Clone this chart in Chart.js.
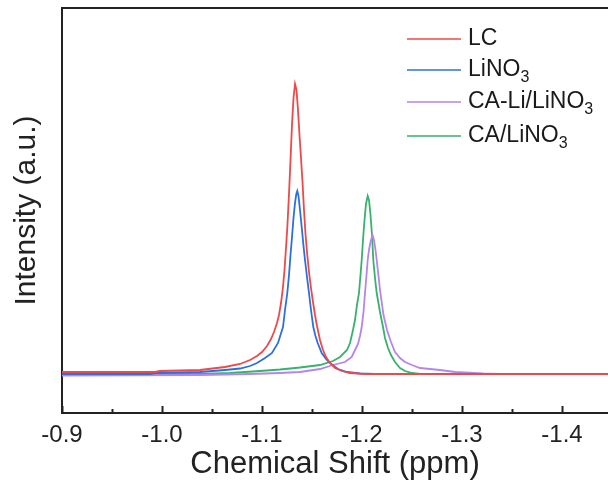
<!DOCTYPE html>
<html lang="en">
<head>
  <meta charset="UTF-8">
  <title>Chemical Shift</title>
  <script src="https://cdn.jsdelivr.net/npm/chart.js"></script>
  <style>
    body { margin: 0; background: #fff; }
    #wrap { width: 608px; height: 491px; }
  </style>
</head>
<body>
  <div id="wrap"><canvas id="nmr"></canvas></div>

  <script>
    // tick labels on the shift axis
    const shiftTicks = [-0.9, -1.0, -1.1, -1.2, -1.3, -1.4];
    const minorTicks = [-0.95, -1.05, -1.15, -1.25, -1.35];

    // LC
    const lcShift = [-0.900, -0.993, -0.998, -1.038, -1.063, -1.078, -1.088, -1.095, -1.100, -1.105,
      -1.109, -1.112, -1.115, -1.117, -1.119, -1.121, -1.1225, -1.124, -1.1255, -1.127,
      -1.1285, -1.130, -1.1315, -1.133, -1.1345, -1.136, -1.1375, -1.139, -1.1405, -1.142,
      -1.1435, -1.145, -1.147, -1.149, -1.151, -1.153, -1.155, -1.158, -1.161, -1.164,
      -1.168, -1.173, -1.180, -1.188, -1.203, -1.446];
    const lcInt = [2, 2, 3, 4, 7, 10, 14, 18, 22, 28,
      35, 42, 51, 59, 71, 87, 104, 126, 150, 180,
      214, 249, 276, 290, 284, 264, 239, 216, 192, 164,
      140, 122, 102, 86, 72, 59, 48, 34, 24, 17,
      11, 6, 3, 1, 0, 0];

    // LiNO3
    const lnShift = [-0.900, -0.988, -0.993, -1.038, -1.063, -1.078, -1.088, -1.095, -1.103, -1.110,
      -1.116, -1.121, -1.123, -1.1253, -1.127, -1.1285, -1.130, -1.1315, -1.133, -1.1343,
      -1.1353, -1.1365, -1.138, -1.1397, -1.1413, -1.143, -1.145, -1.147, -1.149, -1.1513,
      -1.1535, -1.1557, -1.1597, -1.164, -1.168, -1.176, -1.185, -1.198, -1.213, -1.446];
    const lnInt = [0, 0, 1, 2, 4, 5.5, 8, 11, 16, 21,
      31, 47, 64, 81, 99, 119, 137, 156, 171, 180,
      183, 178, 164, 147, 130, 114, 97, 81, 64, 47,
      38, 31, 21, 15, 11, 5, 2, 0.5, 0, 0];

    // CA-Li/LiNO3
    const caliShift = [-0.900, -1.038, -1.088, -1.118, -1.138, -1.158, -1.171, -1.183, -1.1897, -1.193,
      -1.196, -1.198, -1.1997, -1.2015, -1.203, -1.2045, -1.2057, -1.207, -1.2085, -1.2105,
      -1.212, -1.2135, -1.2147, -1.2165, -1.218, -1.2215, -1.225, -1.229, -1.233, -1.238,
      -1.243, -1.250, -1.258, -1.278, -1.293, -1.321, -1.338, -1.446];
    const caliInt = [-1.5, -1, 0, 1, 2, 5, 9, 12, 17, 24,
      30, 38, 47, 62, 81, 99, 114, 124, 132, 139,
      134, 124, 114, 98, 84, 59, 44, 32, 22, 16,
      12, 9, 6, 4, 2, 0.5, 0, 0];

    // CA/LiNO3
    const caShift = [-0.900, -0.988, -0.995, -1.038, -1.068, -1.098, -1.118, -1.138, -1.158, -1.171,
      -1.178, -1.185, -1.188, -1.191, -1.193, -1.195, -1.197, -1.1985, -1.1997, -1.201,
      -1.2025, -1.204, -1.2057, -1.207, -1.2085, -1.210, -1.2113, -1.213, -1.2147, -1.218,
      -1.221, -1.223, -1.226, -1.229, -1.233, -1.238, -1.243, -1.250, -1.258, -1.446];
    const caInt = [-1, -1, 0, 0, 1, 3, 4.5, 6.5, 9, 13,
      17, 24, 31, 44, 54, 69, 81, 99, 114, 134,
      154, 170, 178, 174, 159, 139, 114, 96, 81, 62,
      47, 36, 26, 19, 12, 6, 3, 1, 0, 0];

    const names = ['LC', 'LiNO3', 'CA-Li/LiNO3', 'CA/LiNO3'];
    const colors = ['#f04848', '#2a70e0', '#b585ea', '#36b26a'];

    const pts = (xs, ys) => xs.map((x, i) => ({ x: x, y: ys[i] }));
    const series = [pts(lcShift, lcInt), pts(lnShift, lnInt), pts(caliShift, caliInt), pts(caShift, caInt)];

    const FONT = "'Liberation Sans', Arial, sans-serif";
    const AXIS = '#222';

    // frame top line, inward ticks and the legend with subscripts
    const decor = {
      id: 'decor',
      afterDraw(chart) {
        const ctx = chart.ctx;
        const a = chart.chartArea;
        const xs = chart.scales.x;
        ctx.save();
        ctx.strokeStyle = AXIS;
        ctx.lineWidth = 2;
        ctx.beginPath();
        ctx.moveTo(a.left - 1, a.top);
        ctx.lineTo(a.right, a.top);
        ctx.stroke();
        shiftTicks.forEach(v => {
          const p = Math.round(xs.getPixelForValue(v)) + 0.5;
          ctx.beginPath(); ctx.moveTo(p, a.bottom); ctx.lineTo(p, a.bottom - 7); ctx.stroke();
        });
        minorTicks.forEach(v => {
          const p = Math.round(xs.getPixelForValue(v)) + 0.5;
          ctx.beginPath(); ctx.moveTo(p, a.bottom); ctx.lineTo(p, a.bottom - 4); ctx.stroke();
        });

        // legend
        const rows = [39, 70, 102, 136];
        ctx.textBaseline = 'middle';
        names.forEach((n, i) => {
          const y = rows[i];
          ctx.strokeStyle = colors[i];
          ctx.lineWidth = 1.5;
          ctx.beginPath(); ctx.moveTo(407, y); ctx.lineTo(461, y); ctx.stroke();
          let x = 468;
          const sub = n.endsWith('3');
          const main = sub ? n.slice(0, -1) : n;
          ctx.fillStyle = '#1a1a1a';
          ctx.font = '23px ' + FONT;
          ctx.fillText(main, x, y);
          if (sub) {
            x += ctx.measureText(main).width;
            ctx.font = '16px ' + FONT;
            ctx.fillText('3', x, y + 8);
          }
        });
        ctx.restore();
      }
    };

    const ctx = document.getElementById('nmr').getContext('2d');
    const chart = new Chart(ctx, {
      type: 'line',
      data: {
        datasets: series.map((d, i) => ({
          label: names[i],
          data: d,
          borderColor: colors[i],
          borderWidth: 1.8,
          pointRadius: 0,
          fill: false,
          tension: 0
        }))
      },
      options: {
        responsive: true,
        maintainAspectRatio: false,
        animation: false,
        events: [],
        layout: { padding: { top: 8, right: 0, left: 0, bottom: 0 } },
        plugins: {
          legend: { display: false },
          tooltip: { enabled: false }
        },
        scales: {
          x: {
            type: 'linear',
            reverse: true,
            min: -1.446,
            max: -0.9,
            afterBuildTicks: s => { s.ticks = shiftTicks.map(v => ({ value: v })); },
            afterFit: s => { s.height = 78; },
            grid: { display: false, drawTicks: false },
            border: { display: true, color: AXIS, width: 2 },
            ticks: {
              padding: 8,
              color: '#222',
              font: { family: FONT, size: 24 },
              callback: v => v.toFixed(1)
            },
            title: {
              display: true,
              text: 'Chemical Shift (ppm)',
              color: '#222',
              font: { family: FONT, size: 31 },
              padding: { top: 0, bottom: 8 }
            }
          },
          y: {
            min: -39,
            max: 366,
            afterFit: s => { s.width = 62; },
            grid: { display: false, drawTicks: false },
            border: { display: true, color: AXIS, width: 2 },
            ticks: { display: false },
            title: {
              display: true,
              text: 'Intensity (a.u.)',
              color: '#222',
              font: { family: FONT, size: 30 },
              padding: { top: 9, bottom: 0 }
            }
          }
        }
      },
      plugins: [decor]
    });
  </script>
</body>
</html>
